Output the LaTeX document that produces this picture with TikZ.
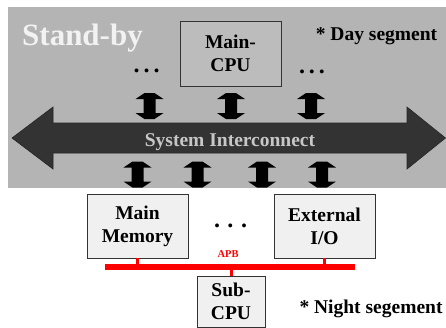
\documentclass[tikz,border=0pt]{standalone}
\usepackage{fontspec}
\setmainfont{Liberation Serif}
\definecolor{panelgray}{HTML}{B4B4B4}
\definecolor{cpugray}{HTML}{BCBCBC}
\definecolor{busdark}{HTML}{333333}
\definecolor{boxfill}{HTML}{F0F0F0}
\definecolor{boxline}{HTML}{333333}
\tikzset{
  blockbox/.style={draw=boxline, line width=0.9pt, align=center, inner sep=0pt,
    font=\fontsize{19.5}{23}\selectfont\bfseries, text=black},
  bigtext/.style={font=\fontsize{19.5}{23}\selectfont\bfseries, inner sep=0pt, anchor=base},
  dotrow/.style={font=\fontsize{24}{26}\selectfont\bfseries, inner sep=0pt, anchor=base},
  apbbus/.style={draw=red, line width=6pt},
  apbstub/.style={draw=red, line width=3pt},
  updown/.pic={
    \fill[black] (-5,-13) -- (5,-13) -- (14,-7) -- (6,-7) -- (6,7) -- (14,7)
      -- (5,13) -- (-5,13) -- (-14,7) -- (-6,7) -- (-6,-7) -- (-14,-7) -- cycle;
  }
}
\begin{document}
\begin{tikzpicture}[x=1pt,y=-1pt]
\useasboundingbox (0,0) rectangle (446,327);

% stand-by (day) segment panel
\fill[panelgray] (8,7) rectangle (446,188);
\node[bigtext, font=\fontsize{31}{36}\selectfont\bfseries, text=white!95!black] (standby) at (82.5,45) {Stand-by};
\node[bigtext] (day) at (376.5,40) {* Day segment};

% main processor
\node[blockbox, fill=cpugray, minimum width=101pt, minimum height=65pt] (maincpu) at (230.5,53.5) {Main-\\CPU};
\node[dotrow] (dotsL) at (146.7,72) {.\hspace{4pt}.\hspace{4pt}.};
\node[dotrow] (dotsR) at (312,73) {.\hspace{4pt}.\hspace{4pt}.};

% system interconnect (double-headed block arrow)
\fill[busdark, draw=black!85, line width=0.6pt]
  (12,138) -- (53,107) -- (53,123) -- (407,123) -- (407,107) -- (445.5,138)
  -- (407,169) -- (407,153) -- (53,153) -- (53,169) -- cycle;
\node[bigtext, text=black!22] (sysic) at (230,146) {System Interconnect};

% bidirectional links to the interconnect
\pic at (149.5,106) {updown};
\pic at (231,106) {updown};
\pic at (311,106) {updown};
\pic at (137.5,174.5) {updown};
\pic at (197.5,174.5) {updown};
\pic at (262,174.5) {updown};
\pic at (322,174.5) {updown};

% night segment
\node[blockbox, fill=boxfill, minimum width=101pt, minimum height=64pt] (mem) at (137.5,226) {Main\\Memory};
\node[blockbox, fill=boxfill, minimum width=101pt, minimum height=64pt] (extio) at (324.5,226) {External\\I/O};
\node[dotrow] (dotsM) at (230.5,227) {.\hspace{7.5pt}.\hspace{7.5pt}.};
\node[font=\fontsize{10.5}{12}\selectfont\bfseries, text=red, inner sep=0pt, anchor=base] (apb) at (228,257) {APB};

\coordinate (busL) at (105,267);
\coordinate (busR) at (355,267);
\draw[apbbus] (busL) -- (busR);

\node[blockbox, fill=boxfill, minimum width=68pt, minimum height=51pt] (subcpu) at (231,301.5) {Sub-\\CPU};

\draw[apbstub] (mem.south) -- (mem.south |- busL);
\draw[apbstub] (extio.south) -- (extio.south |- busL);
\draw[apbstub] (subcpu.north) -- (subcpu.north |- busL);

\node[bigtext] (night) at (371,313) {* Night segement};
\end{tikzpicture}
\end{document}
